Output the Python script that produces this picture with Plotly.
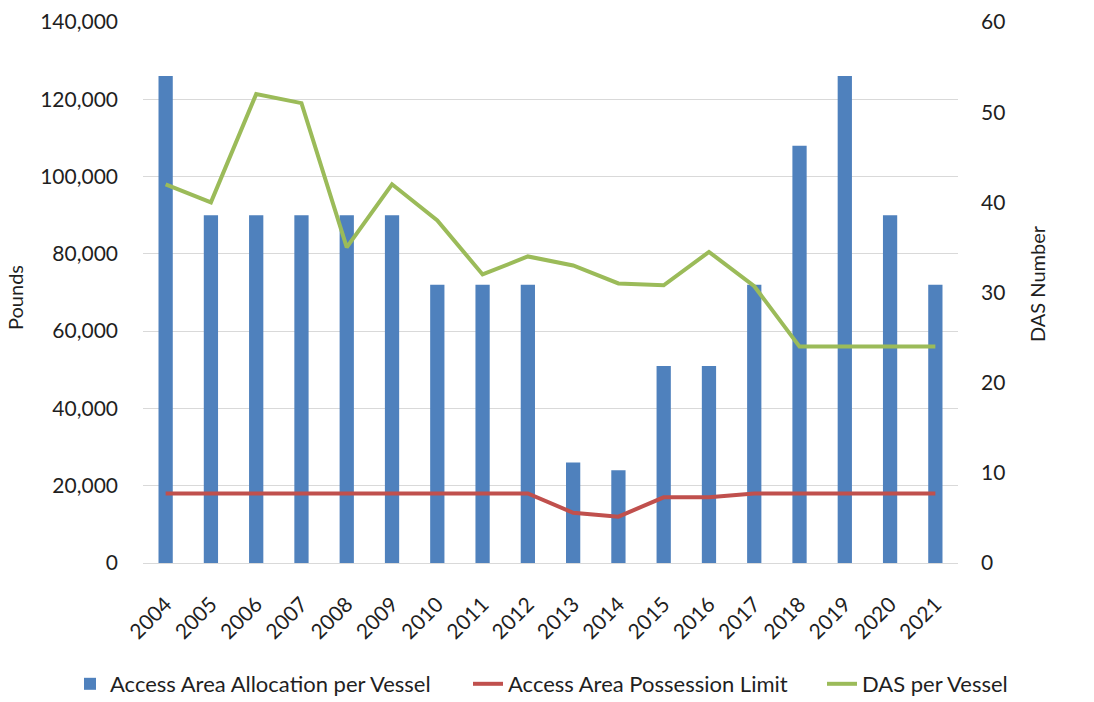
import plotly.graph_objects as go

years = [str(y) for y in range(2004, 2022)]
allocation = [126000, 90000, 90000, 90000, 90000, 90000, 72000, 72000, 72000,
              26000, 24000, 51000, 51000, 72000, 108000, 126000, 90000, 72000]
possession_limit = [18000, 18000, 18000, 18000, 18000, 18000, 18000, 18000, 18000,
                    13000, 12000, 17000, 17000, 18000, 18000, 18000, 18000, 18000]
das_per_vessel = [42, 40, 52, 51, 35, 42, 38, 32, 34, 33, 31, 30.8, 34.5, 30.7,
                  24, 24, 24, 24]

left_ticks = [0, 20000, 40000, 60000, 80000, 100000, 120000, 140000]
right_ticks = [0, 10, 20, 30, 40, 50, 60]

FONT = "Lato"
TXT = "#1f1f1f"
W, H = 1094, 702
ML, MR, MT, MB = 143, 136, 22, 139
PW, PH = W - ML - MR, H - MT - MB

fig = go.Figure()
fig.add_trace(go.Bar(
    x=years, y=allocation, name="Access Area Allocation per Vessel",
    marker=dict(color="#4f81bd", line=dict(width=0)), legend="legend",
))
fig.add_trace(go.Scatter(
    x=years, y=possession_limit, name="Access Area Possession Limit",
    mode="lines", line=dict(color="#c0504d", width=4), legend="legend2",
))
fig.add_trace(go.Scatter(
    x=years, y=das_per_vessel, name="DAS per Vessel", yaxis="y2",
    mode="lines", line=dict(color="#9bbb59", width=4), legend="legend3",
))


def legend_at(px_left, px_mid_y):
    # one single-entry legend, placed in page pixels
    return dict(
        xref="container", yref="container",
        x=px_left / W, xanchor="left",
        y=1 - px_mid_y / H, yanchor="middle",
        font=dict(family=FONT, size=22, color=TXT),
        bgcolor="rgba(0,0,0,0)", borderwidth=0,
    )


def axis_title(text, px_x, px_y):
    # vertical axis title placed in page pixels
    return dict(
        text=text, textangle=-90, showarrow=False,
        xref="paper", yref="paper",
        x=(px_x - ML) / PW, y=1 - (px_y - MT) / PH,
        xanchor="center", yanchor="middle",
        font=dict(family=FONT, size=20, color=TXT),
    )


fig.update_layout(
    width=W, height=H,
    margin=dict(l=ML, r=MR, t=MT, b=MB, autoexpand=False),
    paper_bgcolor="white", plot_bgcolor="white",
    font=dict(family=FONT, size=21, color=TXT),
    bargap=0.685,
    showlegend=True,
    legend=legend_at(70, 684),
    legend2=legend_at(468, 684),
    legend3=legend_at(822, 684),
    annotations=[
        axis_title("Pounds", 15, 298),
        axis_title("DAS Number", 1037, 284),
    ],
    xaxis=dict(
        type="category", tickangle=-45, showgrid=False, showline=False,
        ticks="", ticklabelstandoff=24, tickfont=dict(size=21, color=TXT),
        automargin=False,
    ),
    yaxis=dict(
        range=[0, 140000], tickvals=left_ticks,
        ticktext=[f"{v:,}" for v in left_ticks],
        showgrid=True, gridcolor="#d9d9d9", gridwidth=1.3,
        zeroline=True, zerolinecolor="#d9d9d9", zerolinewidth=1.3,
        showline=False, ticks="", ticklabelstandoff=24,
        tickfont=dict(size=21, color=TXT), automargin=False,
    ),
    yaxis2=dict(
        range=[0, 60], tickvals=right_ticks, overlaying="y", side="right",
        showgrid=False, zeroline=False, showline=False, ticks="",
        ticklabelstandoff=22, tickfont=dict(size=21, color=TXT),
        automargin=False,
    ),
)

fig.write_html("out.html")
